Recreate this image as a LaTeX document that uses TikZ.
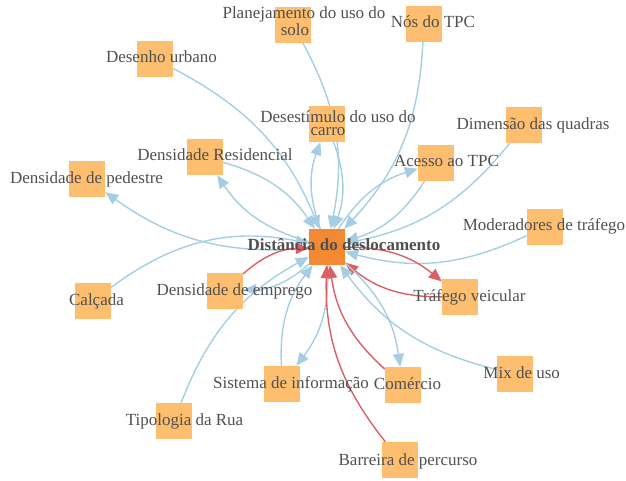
\documentclass[tikz,border=0pt]{standalone}
\usepackage{fontspec}
\setmainfont{Liberation Serif}
\usetikzlibrary{arrows.meta}
\definecolor{nodefill}{RGB}{253,191,111}
\definecolor{hubfill}{RGB}{244,137,52}
\definecolor{linkblue}{RGB}{166,206,227}
\definecolor{linkred}{RGB}{218,96,102}
\definecolor{labelgrey}{RGB}{80,80,80}
\pgfdeclarelayer{edges}
\pgfsetlayers{edges,main}
\tikzset{
  sq/.style={rectangle, fill=nodefill, minimum size=36pt, inner sep=0pt, draw=none},
  hub/.style={sq, fill=hubfill},
  lbl/.style={inner sep=0pt, anchor=base, text=labelgrey, align=center,
              font=\fontsize{17}{12.5}\selectfont},
  poslink/.style={draw=linkblue, line width=1.4pt,
              -{Triangle[length=13pt,width=11pt,fill=linkblue]}, bend left=20},
  neglink/.style={draw=linkred, line width=1.4pt,
              -{Triangle[length=13pt,width=11pt,fill=linkred]}, bend left=20}
}
\begin{document}
\begin{tikzpicture}[x=1pt,y=-1pt]
\useasboundingbox (0,0) rectangle (626,480);

% factor boxes
\node[hub] (c)    at (327,247) {};
\node[sq]  (plan) at (293,25)  {};
\node[sq]  (nos)  at (424,24)  {};
\node[sq]  (dur)  at (155,59)  {};
\node[sq]  (dest) at (327,124) {};
\node[sq]  (dim)  at (524,125) {};
\node[sq]  (acc)  at (436,163) {};
\node[sq]  (res)  at (205,157) {};
\node[sq]  (ped)  at (87,179)  {};
\node[sq]  (mod)  at (545,227) {};
\node[sq]  (cal)  at (93,301)  {};
\node[sq]  (emp)  at (225,291) {};
\node[sq]  (traf) at (460,297) {};
\node[sq]  (mix)  at (515,374) {};
\node[sq]  (sis)  at (282,384) {};
\node[sq]  (com)  at (403,385) {};
\node[sq]  (tip)  at (174,421) {};
\node[sq]  (bar)  at (400,460) {};

% influence links
\begin{pgfonlayer}{edges}
\draw[poslink] (dur)  to (c);
\draw[poslink] (plan) to (c);
\draw[poslink] (nos)  to (c);
\draw[poslink] (dest) to (c);
\draw[poslink] (c)    to (dest);
\draw[poslink] (res)  to (c);
\draw[poslink] (c)    to (res);
\draw[poslink] (c)    to (ped);
\draw[poslink, bend left=24] (cal)  to (c);
\draw[poslink] (acc)  to (c);
\draw[poslink] (c)    to (acc);
\draw[poslink] (dim)  to (c);
\draw[poslink] (mod)  to (c);
\draw[neglink] (c)    to (traf);
\draw[neglink] (traf) to (c);
\draw[neglink] (emp)  to (c);
\draw[poslink] (c)    to (emp);
\draw[poslink] (tip)  to (c);
\draw[poslink] (sis)  to (c);
\draw[poslink] (c)    to (sis);
\draw[neglink] (com)  to (c);
\draw[poslink] (c)    to (com);
\draw[neglink] (bar)  to (c);
\draw[poslink] (mix)  to (c);
\end{pgfonlayer}

% labels
\node[lbl, font=\bfseries\fontsize{17}{12.5}\selectfont] (lc) at (344,250) {Distância do deslocamento};
\node[lbl] (lplan) at (304,35)  {Planejamento do uso do\\solo\hspace*{18pt}};
\node[lbl] (lnos)  at (433,27)  {Nós do TPC};
\node[lbl] (ldur)  at (161.5,62) {Desenho urbano};
\node[lbl] (ldest) at (338,135) {Desestímulo do uso do\\carro\hspace*{20pt}};
\node[lbl] (ldim)  at (533,129) {Dimensão das quadras};
\node[lbl] (lacc)  at (446.5,166.5) {Acesso ao TPC};
\node[lbl] (lres)  at (215,160.5) {Densidade Residencial};
\node[lbl] (lped)  at (86.5,183) {Densidade de pedestre};
\node[lbl] (lmod)  at (544,230.5) {Moderadores de tráfego};
\node[lbl] (ltraf) at (469.5,301.5) {Tráfego veicular};
\node[lbl] (lcal)  at (96.5,305) {Calçada};
\node[lbl] (lemp)  at (234.5,295.5) {Densidade de emprego};
\node[lbl] (lsis)  at (291,388) {Sistema de informação};
\node[lbl] (lcom)  at (407.5,389) {Comércio};
\node[lbl] (ltip)  at (184.5,425.5) {Tipologia da Rua};
\node[lbl] (lbar)  at (408,465) {Barreira de percurso};
\node[lbl] (lmix)  at (521.7,378.3) {Mix de uso};
\end{tikzpicture}
\end{document}
